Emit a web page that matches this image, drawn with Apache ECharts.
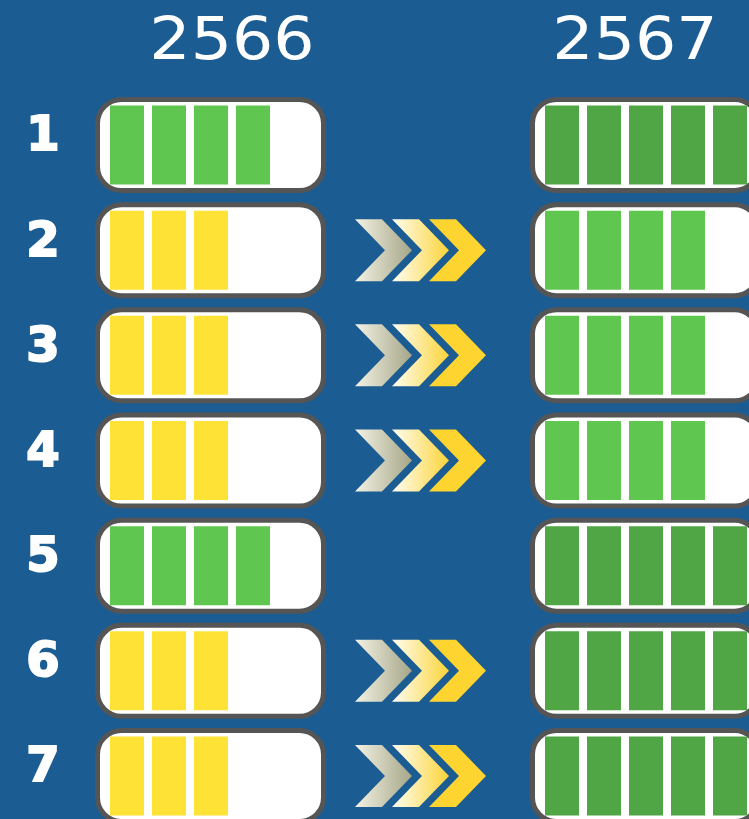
<!DOCTYPE html>
<html>
<head>
<meta charset="utf-8">
<script src="https://cdn.jsdelivr.net/npm/echarts@6/dist/echarts.min.js"></script>
<style>
html, body { margin: 0; padding: 0; background: #1b5c93; }
#main { width: 749px; height: 819px; }
</style>
</head>
<body>
<div id="main"></div>
<script>
// data
var years = ['2566', '2567'];
var rows = ['1', '2', '3', '4', '5', '6', '7'];
var level2566 = [4, 3, 3, 3, 4, 3, 3];
var level2567 = [5, 4, 4, 4, 5, 5, 5];
var arrowRows = ['2', '3', '4', '6', '7'];

var levelColors = { 3: '#fee236', 4: '#5fc650', 5: '#50a544' };

function segData(levels) {
	var out = [];
	levels.forEach(function (n, r) {
		for (var i = 0; i < n; i++) out.push([i, r, n]);
	});
	return out;
}

// battery frame
function renderBattery(params, api) {
	var c = api.coord([0, api.value(0)]);
	return {
		type: 'rect',
		shape: { x: c[0] - 12.5, y: c[1] - 45.5, width: 226, height: 91, r: 24 },
		style: { fill: '#fff', stroke: '#555555', lineWidth: 5 }
	};
}

// one cell of the battery
function renderSeg(params, api) {
	var c = api.coord([api.value(0), api.value(1)]);
	var unit = api.size([1, 1]);
	return {
		type: 'rect',
		shape: { x: c[0], y: c[1] - 39.5, width: unit[0] * 34 / 42, height: 79 },
		style: { fill: levelColors[api.value(2)] }
	};
}

function chevron(x0, y0, fill) {
	return {
		type: 'polygon',
		shape: { points: [[x0, y0], [x0 + 27, y0], [x0 + 57, y0 + 31], [x0 + 27, y0 + 62], [x0, y0 + 62], [x0 + 30, y0 + 31]] },
		style: { fill: fill }
	};
}

function renderArrow(params, api) {
	var c = api.coord([5.833, api.value(0)]);
	var x0 = c[0], y0 = c[1] - 31;
	var g = echarts.graphic;
	return {
		type: 'group',
		children: [
			chevron(x0, y0, new g.LinearGradient(0, 0, 1, 0, [{ offset: 0, color: '#f4f2e4' }, { offset: 1, color: '#a5a688' }])),
			chevron(x0 + 37, y0, new g.LinearGradient(0, 0, 1, 0, [{ offset: 0, color: '#fffdf2' }, { offset: 1, color: '#fbd43a' }])),
			chevron(x0 + 74, y0, '#fdd430')
		]
	};
}

var myChart = echarts.init(document.getElementById('main'));

var option = {
	backgroundColor: '#1b5c93',
	animation: false,
	grid: [
		{ left: 89, top: 92.4, width: 420, height: 736.2, outerBoundsMode: 'none', containLabel: false },
		{ left: 524, top: 92.4, width: 252, height: 736.2, outerBoundsMode: 'none', containLabel: false }
	],
	xAxis: [
		{ gridIndex: 0, type: 'value', min: -0.5, max: 9.5, show: false },
		{ gridIndex: 1, type: 'value', min: -0.5, max: 5.5, show: false }
	],
	yAxis: [
		{
			gridIndex: 0, type: 'category', data: rows, inverse: true,
			axisLine: { show: false }, axisTick: { show: false }, splitLine: { show: false },
			axisLabel: {
				align: 'center',
				margin: 46,
				formatter: '{n|{value}}',
				rich: {
					n: {
						color: '#fff',
						fontFamily: 'DejaVu Sans',
						fontWeight: 'bold',
						fontSize: 48,
						padding: [0, 0, 14, 0],
						textBorderColor: '#fff',
						textBorderWidth: 2,
						textShadowColor: '#a3bdd8',
						textShadowOffsetX: 2.5,
						textShadowOffsetY: 2.5,
						textShadowBlur: 0
					}
				}
			}
		},
		{ gridIndex: 1, type: 'category', data: rows, inverse: true, show: false }
	],
	graphic: years.map(function (y, i) {
		return {
			type: 'text',
			x: [232, 635][i],
			y: 44,
			scaleX: 1.12,
			style: {
				text: y,
				fill: '#fff',
				font: '58px "DejaVu Sans"',
				align: 'center',
				verticalAlign: 'middle'
			}
		};
	}),
	series: [
		{ type: 'custom', xAxisIndex: 0, yAxisIndex: 0, renderItem: renderBattery, data: rows.map(function (r, i) { return [i]; }), encode: { y: 0 } },
		{ type: 'custom', xAxisIndex: 0, yAxisIndex: 0, renderItem: renderSeg, data: segData(level2566), encode: { x: 0, y: 1 } },
		{ type: 'custom', xAxisIndex: 0, yAxisIndex: 0, renderItem: renderArrow, data: arrowRows.map(function (r) { return [rows.indexOf(r)]; }), encode: { y: 0 } },
		{ type: 'custom', xAxisIndex: 1, yAxisIndex: 1, renderItem: renderBattery, data: rows.map(function (r, i) { return [i]; }), encode: { y: 0 } },
		{ type: 'custom', xAxisIndex: 1, yAxisIndex: 1, renderItem: renderSeg, data: segData(level2567), encode: { x: 0, y: 1 } }
	]
};

myChart.setOption(option, true);
</script>
</body>
</html>
